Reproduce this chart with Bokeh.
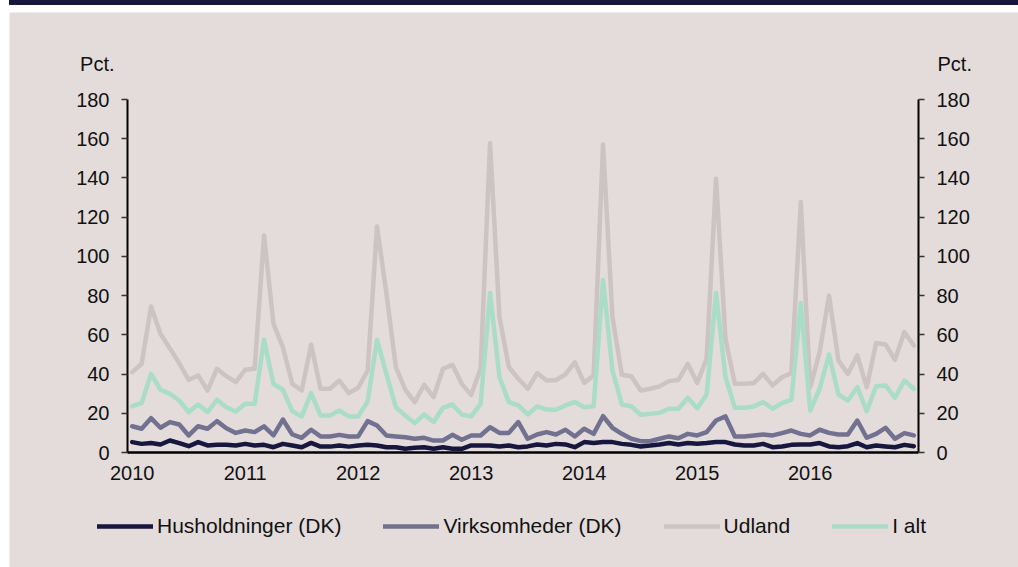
from bokeh.plotting import figure
from bokeh.models import (Range1d, LinearAxis, FixedTicker, Legend, LegendItem,
                          Label, Spacer)
from bokeh.layouts import column
from bokeh.embed import file_html
from bokeh.resources import INLINE

# ---- data (monthly, Jan 2010 - Dec 2016) ----
years = ["2010", "2011", "2012", "2013", "2014", "2015", "2016"]
months = list(range(84))

husholdninger = [5.3, 4.4, 4.8, 4.1, 6.1, 4.8, 3.2, 5.3, 3.6, 3.9, 3.9, 3.6,
                 4.4, 3.6, 3.9, 2.7, 4.4, 3.6, 2.7, 4.9, 3.0, 3.0, 3.6, 3.0,
                 3.6, 3.9, 3.6, 2.7, 2.7, 1.9, 2.4, 2.7, 1.9, 2.7, 1.9, 1.9,
                 3.6, 3.6, 3.6, 3.1, 3.6, 2.7, 3.1, 4.1, 3.6, 4.4, 4.1, 2.7,
                 5.3, 4.8, 5.3, 5.3, 4.4, 3.9, 3.1, 3.6, 4.1, 4.8, 4.1, 4.8,
                 4.5, 4.8, 5.3, 5.3, 4.1, 3.6, 3.6, 4.4, 2.7, 3.1, 3.9, 4.1,
                 4.1, 4.8, 3.1, 2.7, 3.2, 4.8, 2.7, 3.6, 3.1, 2.7, 3.9, 3.2]

virksomheder = [13.4, 12.1, 17.5, 12.6, 15.5, 14.3, 8.7, 13.4, 12.1, 16.0, 12.4, 10.0,
                11.2, 10.4, 13.3, 8.7, 16.8, 9.2, 7.5, 11.6, 8.2, 8.2, 9.0, 8.2,
                8.2, 16.0, 13.8, 8.7, 8.2, 7.8, 7.0, 7.5, 6.1, 6.1, 9.0, 6.5,
                8.7, 8.7, 12.9, 10.0, 10.0, 15.5, 7.0, 9.2, 10.4, 9.2, 11.6, 8.2,
                12.1, 9.5, 18.5, 12.6, 9.5, 7.0, 5.8, 5.8, 7.0, 8.2, 7.3, 9.5,
                8.7, 10.4, 16.3, 18.4, 8.2, 8.2, 8.7, 9.2, 8.7, 9.9, 11.2, 9.5,
                8.7, 11.6, 10.0, 9.2, 9.2, 16.3, 7.5, 9.5, 12.6, 7.0, 9.9, 8.7]

udland = [41.0, 45.2, 74.4, 60.5, 53.0, 45.5, 37.0, 39.3, 31.6, 42.7, 38.9, 35.9,
          42.2, 42.7, 110.7, 65.6, 53.7, 35.0, 31.6, 55.0, 32.5, 32.5, 36.7, 30.3,
          33.0, 41.8, 115.2, 81.0, 43.5, 32.0, 25.7, 34.5, 28.2, 42.7, 44.7, 35.0,
          29.4, 42.7, 157.7, 69.0, 43.5, 37.6, 32.5, 40.5, 36.7, 37.0, 39.8, 46.0,
          35.5, 39.3, 157.0, 69.0, 39.6, 38.9, 31.6, 32.5, 33.7, 36.4, 37.0, 45.2,
          35.5, 47.8, 139.6, 58.0, 35.0, 35.0, 35.4, 40.1, 34.2, 38.4, 40.5, 127.7,
          33.3, 51.2, 80.0, 46.9, 40.1, 49.5, 33.3, 55.8, 55.1, 47.3, 61.4, 54.6]

i_alt = [23.6, 25.2, 40.1, 32.0, 29.9, 26.5, 20.6, 24.5, 20.6, 26.9, 23.1, 20.9,
         24.8, 24.8, 57.5, 35.0, 32.0, 21.1, 18.4, 30.3, 18.9, 18.9, 21.4, 18.4,
         18.4, 26.0, 57.5, 40.0, 23.0, 18.9, 15.0, 19.4, 15.5, 22.8, 24.5, 19.4,
         18.4, 24.8, 81.3, 38.4, 25.7, 24.0, 19.4, 23.5, 21.9, 21.8, 24.0, 25.7,
         23.1, 23.6, 88.0, 41.8, 24.5, 23.6, 19.2, 19.7, 20.2, 22.3, 22.3, 27.9,
         22.5, 29.6, 81.3, 38.4, 22.8, 22.8, 23.5, 25.7, 22.3, 25.2, 26.9, 76.2,
         21.4, 32.5, 50.0, 29.6, 26.5, 33.3, 21.1, 33.8, 34.2, 27.9, 36.7, 32.5]

series_names = ["Husholdninger (DK)", "Virksomheder (DK)", "Udland", "I alt"]
y_ticks = [0, 20, 40, 60, 80, 100, 120, 140, 160, 180]
unit_label = "Pct."

# ---- style / layout constants (pixels) ----
BG = "#e3dcdb"
NAVY = "#16163f"
colors = [NAVY, "#727290", "#cdc3c3", "#a9dcc9"]
FONT = "Liberation Sans"
TXT = "#111111"

W, H = 1009, 555              # figure size
PL, PR, PT, PB = 118, 100, 87, 115   # plot-area insets inside the figure
X0, X1 = -0.5, 83.5
Y0, Y1 = 0, 180

# the frame spans the whole figure; the axes sit at fixed positions inside it
xs = (X1 - X0) / (W - PL - PR)
ys = (Y1 - Y0) / (H - PT - PB)
x_range = Range1d(X0 - PL * xs, X1 + PR * xs)
y_range = Range1d(Y0 - PB * ys, Y1 + PT * ys)

p = figure(width=W, height=H, output_backend="svg", toolbar_location=None,
           x_range=x_range, y_range=y_range, min_border=0,
           margin=(7, 0, 0, 9))
p.background_fill_color = BG
p.border_fill_color = BG
p.outline_line_color = None
p.xgrid.visible = False
p.ygrid.visible = False

renderers = []
for vals, col in zip([husholdninger, virksomheder, udland, i_alt], colors):
    r = p.line(months, vals, line_color=col, line_width=4.5, line_join="round",
               line_cap="round")
    renderers.append(r)

# x axis
xa = p.xaxis[0]
xa.fixed_location = Y0
xa.bounds = (X0, X1)
xa.ticker = FixedTicker(ticks=[12 * k for k in range(len(years))])
xa.major_label_overrides = {12 * k: y for k, y in enumerate(years)}
xa.major_tick_out = 0
xa.major_tick_in = 0
xa.minor_tick_out = 0
xa.minor_tick_in = 0
xa.axis_line_width = 2.5
xa.axis_line_color = "black"
xa.major_label_standoff = 13
xa.major_label_text_font = FONT
xa.major_label_text_font_size = "20px"
xa.major_label_text_color = TXT

def style_y(ax, loc):
    ax.fixed_location = loc
    ax.bounds = (Y0, Y1)
    ax.ticker = FixedTicker(ticks=y_ticks)
    ax.major_tick_out = 6
    ax.major_tick_in = 0
    ax.minor_tick_out = 0
    ax.minor_tick_in = 0
    ax.axis_line_width = 2
    ax.axis_line_color = "black"
    ax.major_tick_line_width = 1.5
    ax.major_tick_line_color = "#333333"
    ax.major_label_standoff = 12
    ax.major_label_text_font = FONT
    ax.major_label_text_font_size = "20px"
    ax.major_label_text_color = TXT

style_y(p.yaxis[0], X0)
ry = LinearAxis()
style_y(ry, X1)
p.add_layout(ry, "right")

# "Pct." unit labels above each value axis
p.add_layout(Label(x=PL - 13, y=H - 51, x_units="screen", y_units="screen",
                   text=unit_label, text_align="right", text_baseline="middle",
                   text_font=FONT, text_font_size="20px", text_color=TXT))
p.add_layout(Label(x=W - PR + 19, y=H - 51, x_units="screen", y_units="screen",
                   text=unit_label, text_align="left", text_baseline="middle",
                   text_font=FONT, text_font_size="20px", text_color=TXT))

legend = Legend(items=[LegendItem(label=n, renderers=[r]) for n, r in zip(series_names, renderers)],
                orientation="horizontal", location=(88, 29),
                spacing=42, glyph_width=56, glyph_height=24, label_height=24,
                label_standoff=4, padding=0, margin=0,
                border_line_alpha=0, background_fill_alpha=0,
                label_text_font=FONT, label_text_font_size="21px",
                label_text_color=TXT)
p.add_layout(legend, "center")

top_bar = Spacer(width=W, height=5, margin=(0, 0, 0, 9),
                 styles={"background-color": NAVY})
layout = column(top_bar, p, spacing=0)

open("out.html", "w").write(file_html(layout, INLINE))
